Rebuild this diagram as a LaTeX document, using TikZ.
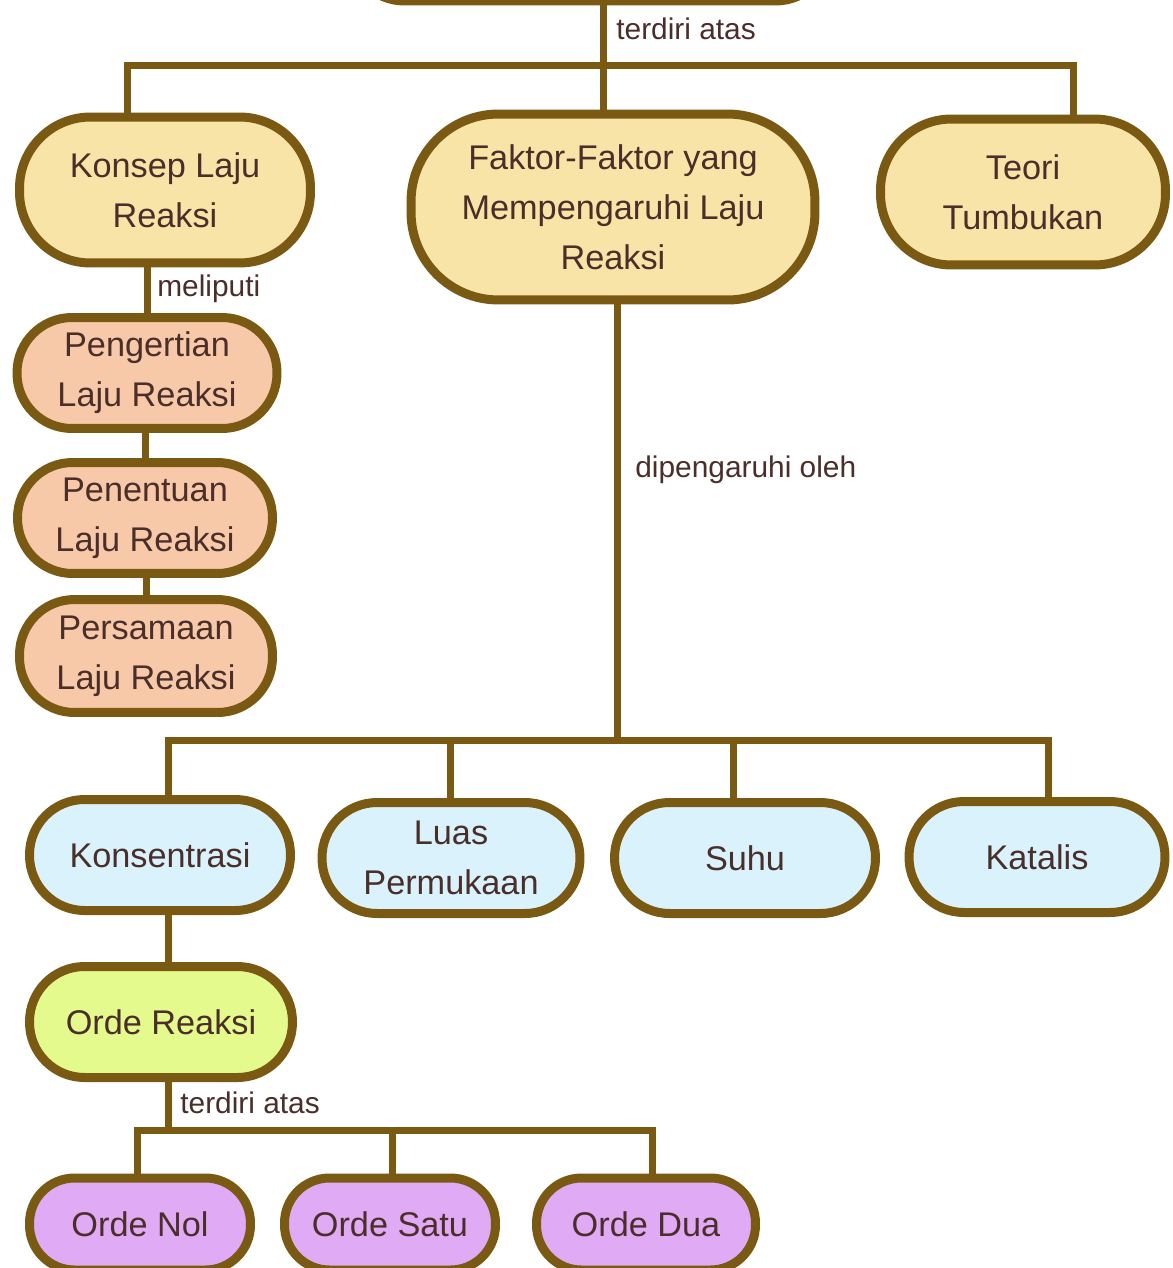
\documentclass[tikz,border=0pt]{standalone}
\usepackage{fontspec}
\setmainfont{Liberation Sans}
\usetikzlibrary{positioning,calc}
\definecolor{rim}{HTML}{7A5A12}
\definecolor{ink}{HTML}{4A2E2A}
\definecolor{fillyel}{HTML}{F9E4A8}
\definecolor{fillsal}{HTML}{F8C9A8}
\definecolor{fillblu}{HTML}{D9F2FC}
\definecolor{filllim}{HTML}{E4FA8C}
\definecolor{fillpur}{HTML}{E0AAF5}

\begin{document}
\begin{tikzpicture}[
  x=0.02cm, y=-0.02cm,
  pill/.style={rectangle, draw=rim, line width=0.18cm, rounded corners=1.1cm,
               minimum height=2.22cm, inner sep=0pt, outer sep=0pt,
               align=center, text=ink, font=\fontsize{19.5}{28.5}\selectfont},
  link/.style={draw=rim, line width=0.14cm},
  lbl/.style={anchor=west, text=ink, inner sep=0pt, font=\fontsize{17}{20}\selectfont}
]
  \useasboundingbox (0,0) rectangle (1173,1268);
  \clip (0,0) rectangle (1173,1268);
  \fill[white] (0,0) rectangle (1173,1268);

  % level 0 and 1
  \node[pill, fill=fillyel, minimum width=9.62cm, minimum height=2.2cm] (top) at (590,-54) {};
  \node[pill, fill=fillyel, minimum width=5.82cm, minimum height=2.92cm,
        rounded corners=1.42cm] (konsep) at (165,190)
    {Konsep Laju\\Reaksi};
  \node[pill, fill=fillyel, minimum width=8.08cm, minimum height=3.72cm,
        rounded corners=1.75cm] (faktor) at (613,207)
    {Faktor-Faktor yang\\Mempengaruhi Laju\\Reaksi};
  \node[pill, fill=fillyel, minimum width=5.7cm, minimum height=2.92cm,
        rounded corners=1.42cm] (teori) at (1023,192)
    {Teori\\Tumbukan};

  % konsep laju reaksi
  \node[pill, fill=fillsal, minimum width=5.2cm] (pengertian) at (147,373)
    {Pengertian\\Laju Reaksi};
  \node[pill, fill=fillsal, minimum width=5.1cm] (penentuan) at (145,518)
    {Penentuan\\Laju Reaksi};
  \node[pill, fill=fillsal, minimum width=5.06cm, minimum height=2.26cm] (persamaan) at (146,656)
    {Persamaan\\Laju Reaksi};

  % faktor
  \node[pill, fill=fillblu, minimum width=5.22cm] (konsentrasi) at (160,855) {Konsentrasi};
  \node[pill, fill=fillblu, minimum width=5.16cm] (luas) at (451,858) {Luas\\Permukaan};
  \node[pill, fill=fillblu, minimum width=5.22cm] (suhu) at (745,858) {Suhu};
  \node[pill, fill=fillblu, minimum width=5.12cm] (katalis) at (1037,857) {Katalis};

  % orde
  \node[pill, fill=filllim, minimum width=5.26cm] (orde) at (161,1022) {Orde Reaksi};
  \node[pill, fill=fillpur, minimum width=4.42cm, minimum height=1.84cm,
        rounded corners=0.9cm] (nol) at (140,1224) {Orde Nol};
  \node[pill, fill=fillpur, minimum width=4.22cm, minimum height=1.84cm,
        rounded corners=0.9cm] (satu) at (390,1224) {Orde Satu};
  \node[pill, fill=fillpur, minimum width=4.38cm, minimum height=1.84cm,
        rounded corners=0.9cm] (dua) at (646,1224) {Orde Dua};

  \coordinate (j0) at (603,65);
  \coordinate (a1) at (127,65);
  \coordinate (a3) at (1073,65);
  \coordinate (b0) at (617,740);
  \coordinate (b1) at (168,740);
  \coordinate (b2) at (450,740);
  \coordinate (b3) at (733,740);
  \coordinate (b4) at (1048,740);
  \coordinate (c0) at (168,1130);
  \coordinate (c1) at (137,1130);
  \coordinate (c2) at (392,1130);
  \coordinate (c3) at (652,1130);

  \draw[link] (top.south -| j0) -- (j0);
  \draw[link] (konsep.north -| a1) -- (a1) -- (a3) -- (teori.north -| a3);
  \draw[link] (j0) -- (faktor.north -| j0);
  \node[lbl] (l1) at (616,29) {terdiri atas};

  \draw[link] (konsep.south -| pengertian.north) -- (pengertian.north);
  \node[lbl] (l2) at (157,289) {meliputi};
  \draw[link] (pengertian.south -| penentuan.north) -- (penentuan.north);
  \draw[link] (penentuan.south -| persamaan.north) -- (persamaan.north);

  \draw[link] (faktor.south -| b0) -- (b0);
  \node[lbl] (l3) at (635,470) {dipengaruhi oleh};
  \draw[link] (konsentrasi.north -| b1) -- (b1) -- (b4) -- (katalis.north -| b4);
  \draw[link] (b2) -- (luas.north -| b2);
  \draw[link] (b3) -- (suhu.north -| b3);

  \draw[link] (konsentrasi.south -| c0) -- (orde.north -| c0);
  \draw[link] (orde.south -| c0) -- (c0);
  \node[lbl] (l4) at (180,1103) {terdiri atas};
  \draw[link] (nol.north -| c1) -- (c1) -- (c3) -- (dua.north -| c3);
  \draw[link] (c2) -- (satu.north -| c2);
\end{tikzpicture}
\end{document}
